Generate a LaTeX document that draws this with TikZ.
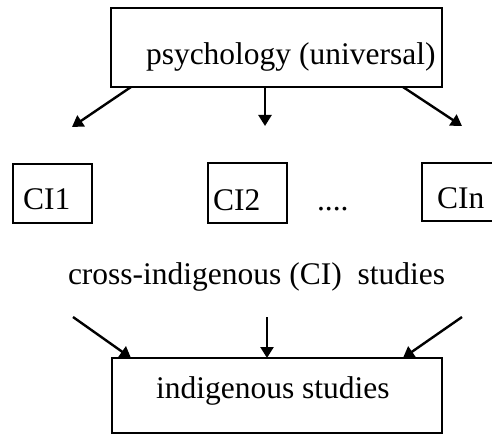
\documentclass[tikz,border=0pt]{standalone}
\usepackage{fontspec}
\setmainfont{Liberation Serif}
\usetikzlibrary{arrows.meta}
\begin{document}
\begin{tikzpicture}[x=1pt,y=-1pt,
  box/.style={draw, line width=2pt, inner sep=0pt, outer sep=0pt},
  txt/.style={inner sep=0pt, outer sep=0pt, font=\fontsize{31.5}{36}\selectfont},
  arr/.style={line width=2.4pt, -{Triangle[length=11pt,width=13pt]}}]
\useasboundingbox (0,0) rectangle (492,435);
% boxes
\node[box, minimum width=331pt, minimum height=79pt] (top) at (276.5,47.5) {};
\node[txt, anchor=base west] (toptxt) at (146,65) {psychology (universal)};
\node[box, minimum width=79pt, minimum height=59pt] (ci1) at (52.5,193.5) {};
\node[txt, anchor=base west] (ci1txt) at (23,210) {CI1};
\node[box, minimum width=79pt, minimum height=60pt] (ci2) at (247.5,193) {};
\node[txt, anchor=base west] (ci2txt) at (213,211) {CI2};
\node[txt, anchor=base west] (dots) at (317,211) {....};
\node[box, minimum width=76pt, minimum height=58pt] (cin) at (460,192) {};
\node[txt, anchor=base west] (cintxt) at (437,209) {CIn};
\node[txt, anchor=base west] (cross) at (68,285) {cross-indigenous (CI)\ \ studies};
\node[box, minimum width=330pt, minimum height=75pt] (bot) at (277,395.5) {};
\node[txt, anchor=base west] (bottxt) at (156,398) {indigenous studies};
% free ends
\coordinate (t1) at (72,127);
\coordinate (t2) at (265,126);
\coordinate (t3) at (462,126);
\coordinate (b1) at (73,317);
\coordinate (b2) at (267,317);
\coordinate (b3) at (462,317);
% arrows
\draw[arr] ([xshift=20pt]top.south west) -- (t1);
\draw[arr] ([xshift=-11.5pt]top.south) -- (t2);
\draw[arr] ([xshift=-39pt]top.south east) -- (t3);
\draw[arr] (b1) -- ([xshift=19pt]bot.north west);
\draw[arr] (b2) -- ([xshift=-10pt]bot.north);
\draw[arr] (b3) -- ([xshift=-39pt]bot.north east);
\end{tikzpicture}
\end{document}
